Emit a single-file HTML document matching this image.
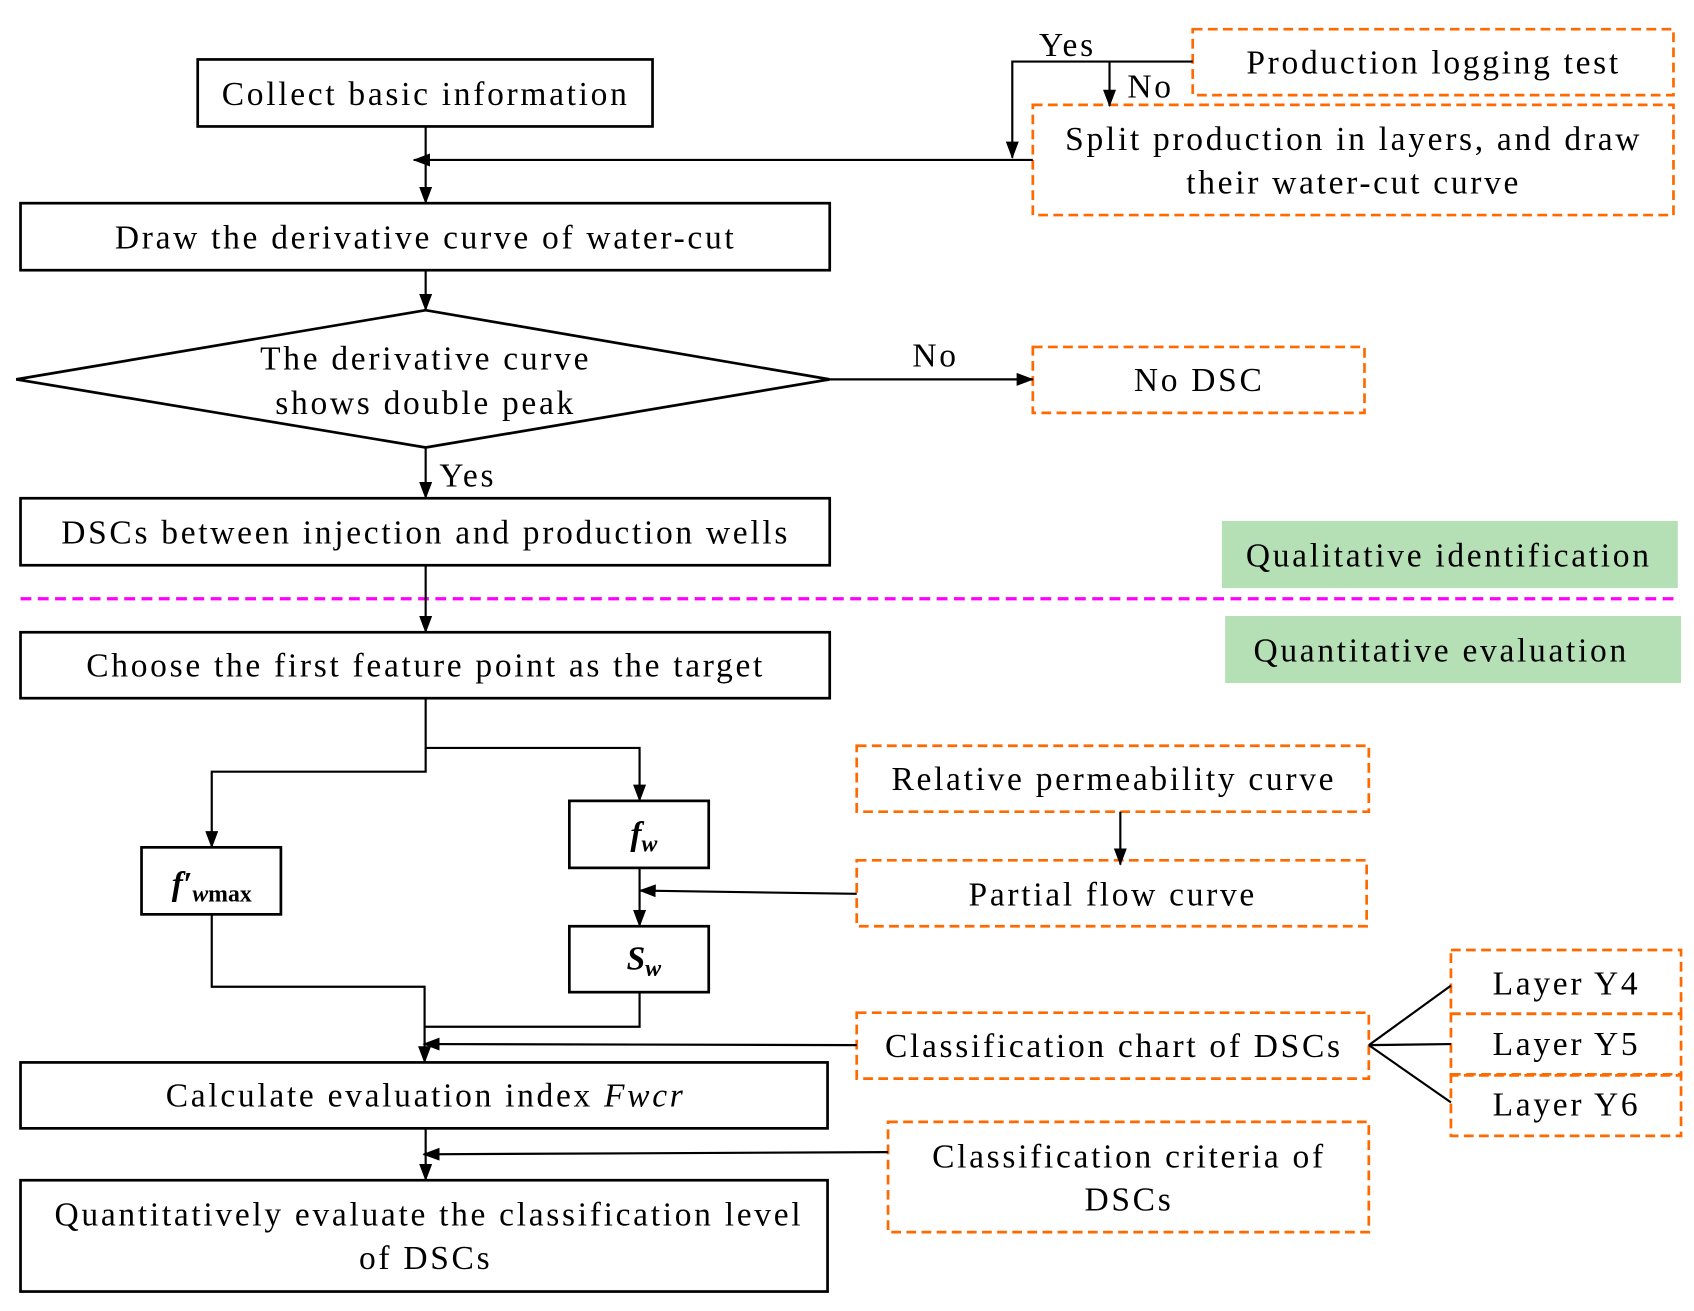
<!DOCTYPE html>
<html><head><meta charset="utf-8"><style>
html,body{margin:0;padding:0;background:#fff;}
svg{display:block;}
text{font-family:"Liberation Serif",serif;font-size:31px;fill:#000;letter-spacing:2.5px;}
</style></head><body>
<svg width="1694" height="1311" viewBox="0 0 1568 1213" preserveAspectRatio="none" xmlns="http://www.w3.org/2000/svg">
<defs>
<marker id="a" markerWidth="16" markerHeight="12" refX="15" refY="6" orient="auto" markerUnits="userSpaceOnUse" viewBox="0 0 16 12">
<path d="M0,0 L16,6 L0,12 z" fill="#000"/>
</marker>
</defs>
<g fill="none" stroke="#000" stroke-width="2.5">
<rect x="183" y="55" width="421" height="62"/>
<rect x="19" y="188" width="749" height="62"/>
<polygon points="15,351 394,287 768,351 394,414"/>
<rect x="19" y="461" width="749" height="62"/>
<rect x="19" y="585" width="749" height="61"/>
<rect x="131" y="784" width="129" height="62"/>
<rect x="527" y="741" width="129" height="62"/>
<rect x="527" y="857" width="129" height="61"/>
<rect x="19" y="983" width="747" height="61"/>
<rect x="19" y="1092" width="747" height="103"/>
</g>
<g fill="none" stroke="#ff6a00" stroke-width="2.5" stroke-dasharray="9,5">
<rect x="1104" y="27" width="445" height="61"/>
<rect x="956" y="97" width="593" height="102"/>
<rect x="956" y="321" width="307" height="61"/>
<rect x="793" y="690" width="474" height="61"/>
<rect x="793" y="796" width="472" height="61"/>
<rect x="793" y="937" width="474" height="61"/>
<rect x="822" y="1038" width="445" height="102"/>
<rect x="1343" y="879" width="213" height="59"/>
<rect x="1343" y="938" width="213" height="57"/>
<rect x="1343" y="994" width="213" height="57"/>
</g>
<line x1="19" y1="554" x2="1555" y2="554" stroke="#ff00ff" stroke-width="3" stroke-dasharray="10,6"/>
<rect x="1131" y="482" width="422" height="62" fill="#b5dfb5"/>
<rect x="1134" y="570" width="422" height="62" fill="#b5dfb5"/>
<g fill="none" stroke="#000" stroke-width="2">
<line x1="394" y1="117" x2="394" y2="188" marker-end="url(#a)"/>
<line x1="956" y1="148" x2="383" y2="148" marker-end="url(#a)"/>
<polyline points="1104,57 937,57 937,146" marker-end="url(#a)"/>
<line x1="1027" y1="57" x2="1027" y2="98" marker-end="url(#a)"/>
<line x1="394" y1="250" x2="394" y2="287" marker-end="url(#a)"/>
<line x1="768" y1="351" x2="956" y2="351" marker-end="url(#a)"/>
<line x1="394" y1="414" x2="394" y2="461" marker-end="url(#a)"/>
<line x1="394" y1="523" x2="394" y2="585" marker-end="url(#a)"/>
<polyline points="394,646 394,692 592,692 592,741" marker-end="url(#a)"/>
<polyline points="394,692 394,714 196,714 196,784" marker-end="url(#a)"/>
<line x1="592" y1="803" x2="592" y2="857" marker-end="url(#a)"/>
<line x1="793" y1="827" x2="592" y2="824" marker-end="url(#a)"/>
<line x1="1037" y1="751" x2="1037" y2="800" marker-end="url(#a)"/>
<polyline points="196,846 196,913 393,913 393,983" marker-end="url(#a)"/>
<polyline points="592,918 592,950 393,950"/>
<line x1="793" y1="967" x2="392" y2="966" marker-end="url(#a)"/>
<line x1="394" y1="1044" x2="394" y2="1092" marker-end="url(#a)"/>
<line x1="822" y1="1066" x2="392" y2="1068" marker-end="url(#a)"/>
<line x1="1267" y1="967" x2="1343" y2="912"/>
<line x1="1267" y1="967" x2="1343" y2="966"/>
<line x1="1267" y1="967" x2="1343" y2="1020"/>
</g>
<g text-anchor="middle">
<text x="394" y="97">Collect basic information</text>
<text x="394" y="230">Draw the derivative curve of water-cut</text>
<text x="394" y="342">The derivative curve</text>
<text x="394" y="383">shows double peak</text>
<text x="394" y="503">DSCs between injection and production wells</text>
<text x="394" y="626">Choose the first feature point as the target</text>
<text x="394" y="1024">Calculate evaluation index <tspan font-style="italic">Fwcr</tspan></text>
<text x="397" y="1134">Quantitatively evaluate the classification level</text>
<text x="394" y="1174">of DSCs</text>
<text x="1327" y="68">Production logging test</text>
<text x="1253" y="139">Split production in layers, and draw</text>
<text x="1253" y="179">their water-cut curve</text>
<text x="1110" y="362">No DSC</text>
<text x="1341" y="524">Qualitative identification</text>
<text x="1334" y="612">Quantitative evaluation</text>
<text x="1031" y="731">Relative permeability curve</text>
<text x="1030" y="838">Partial flow curve</text>
<text x="1031" y="978">Classification chart of DSCs</text>
<text x="1045" y="1080">Classification criteria of</text>
<text x="1045" y="1120">DSCs</text>
<text x="1450" y="920">Layer Y4</text>
<text x="1450" y="976">Layer Y5</text>
<text x="1450" y="1032">Layer Y6</text>
<text x="866" y="339">No</text>
<text x="433" y="450">Yes</text>
<text x="988" y="52">Yes</text>
<text x="1065" y="90">No</text>
<text x="196" y="828" font-style="italic" font-weight="bold" font-size="28" style="letter-spacing:0">f′<tspan font-size="22" dy="6">w</tspan><tspan font-style="normal" font-size="22">max</tspan></text>
<text x="596" y="782" font-style="italic" font-weight="bold" font-size="30" style="letter-spacing:0">f<tspan font-size="22" dy="6">w</tspan></text>
<text x="596" y="897" font-style="italic" font-weight="bold" font-size="30" style="letter-spacing:0">S<tspan font-size="22" dy="6">w</tspan></text>
</g>
</svg>
</body></html>
